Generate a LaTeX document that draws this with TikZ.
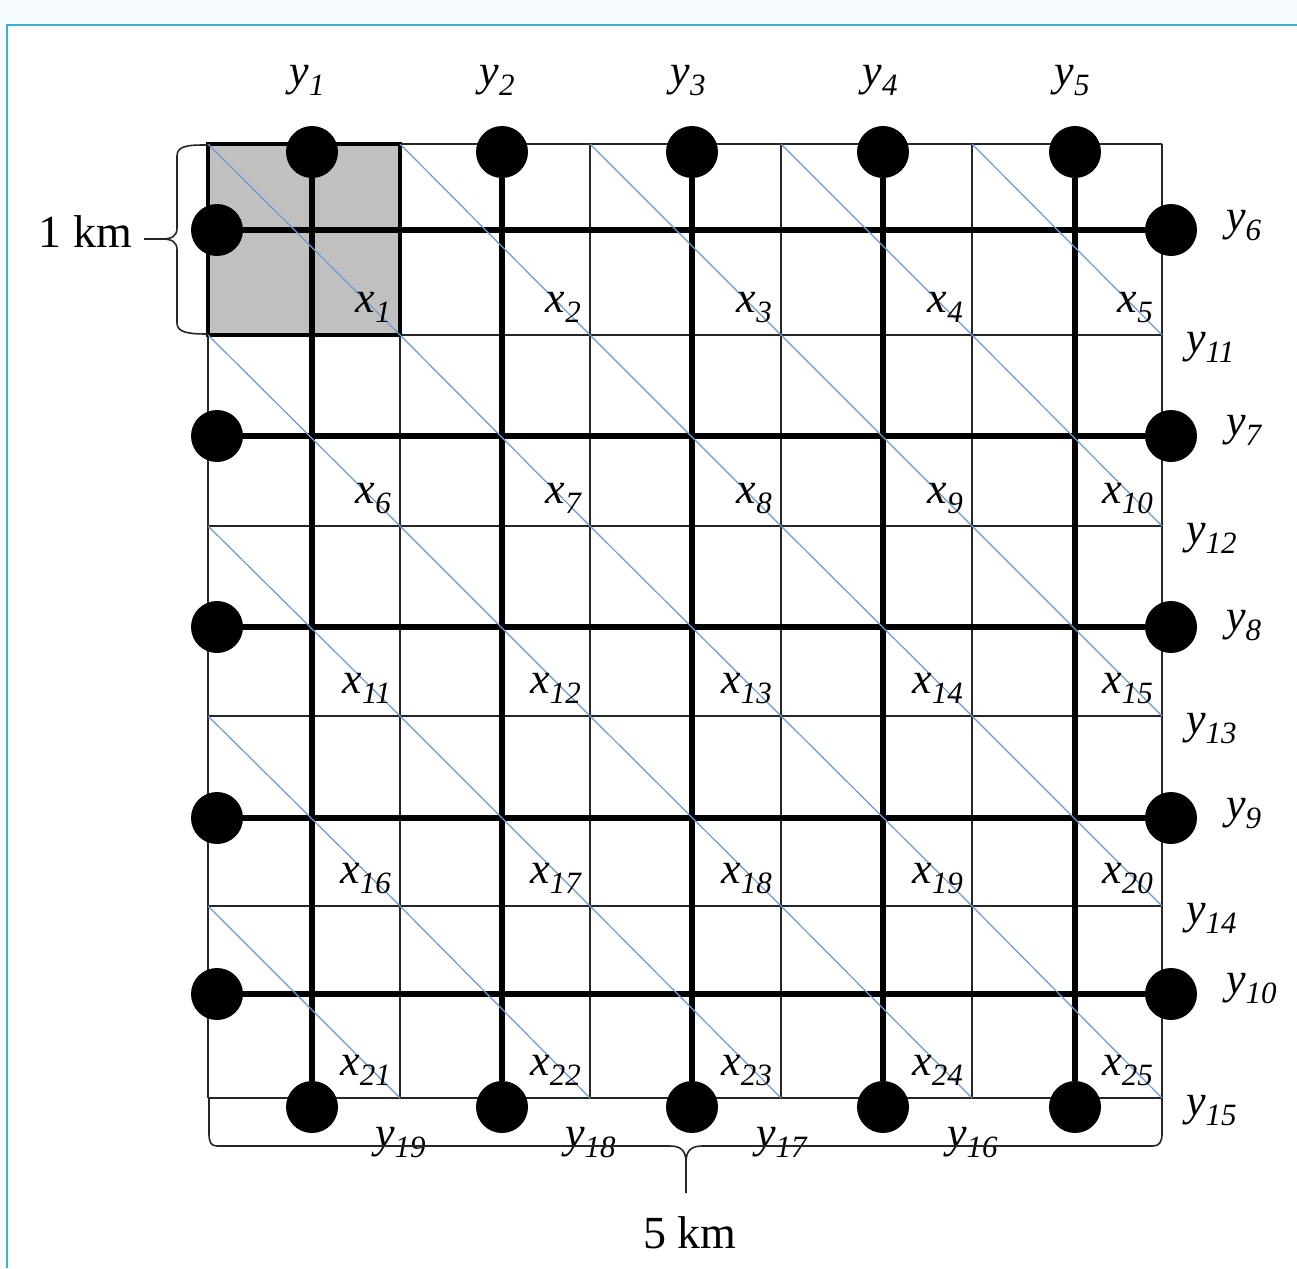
\documentclass[tikz,border=0pt]{standalone}
\usepackage{fontspec}
\setmainfont{Liberation Serif}
\definecolor{pagebg}{HTML}{F5FBFD}
\definecolor{framecol}{HTML}{3DAECB}
\definecolor{cellgray}{HTML}{C0C0C0}
\definecolor{diagcol}{HTML}{6B9BD2}
\newcommand{\vlab}[2]{{\fontsize{44}{44}\selectfont\itshape #1\raisebox{-10pt}{\fontsize{31}{31}\selectfont #2}}}
\begin{document}
\begin{tikzpicture}[x=1pt,y=-1pt,
  gridline/.style={line width=1.8pt, draw=black!85},
  mainline/.style={line width=6.5pt, draw=black},
  diagline/.style={line width=1.2pt, draw=diagcol},
  dotnode/.style={circle, fill=black, draw=none, minimum size=52pt, inner sep=0pt},
  lbl/.style={inner sep=0pt},
  bracestyle/.style={line width=1.6pt, draw=black!85},
  kmtext/.style={inner sep=0pt, font=\fontsize{46}{46}\selectfont}
]
\useasboundingbox (0,0) rectangle (1297,1268);
% page background and frame
\fill[pagebg] (0,0) rectangle (1297,1268);
\fill[white] (7,25) rectangle (1297,1268);
\draw[framecol, line width=2pt] (7,1268) -- (7,25) -- (1297,25);

% shaded block
\fill[cellgray] (208,144) rectangle (400,335);

% thin grid
\foreach \X in {208,400,590,781,972,1162}
  \draw[gridline] (\X,144) -- (\X,1098);
\foreach \Y in {144,335,526,716,906,1098}
  \draw[gridline] (208,\Y) -- (1162,\Y);

% shaded block border
\draw[line width=4.5pt] (208,144) rectangle (400,335);

% dots and thick lines
\foreach \X [count=\i] in {312,502,692,883,1075} {
  \node[dotnode] (t\i) at (\X,152) {};
  \node[dotnode] (b\i) at (\X,1107) {};
  \draw[mainline] (t\i) -- (b\i);
}
\foreach \Y [count=\i] in {230,436,627,818,994} {
  \node[dotnode] (l\i) at (217,\Y) {};
  \node[dotnode] (r\i) at (1171,\Y) {};
  \draw[mainline] (l\i) -- (r\i);
}

% diagonals
\foreach \xa/\xb in {208/400,400/590,590/781,781/972,972/1162}
  \foreach \ya/\yb in {144/335,335/526,526/716,716/906,906/1098}
    \draw[diagline] (\xa,\ya) -- (\xb,\yb);

% x labels
\foreach \yb [count=\r] in {335,526,716,906,1098}
  \foreach \xb [count=\c] in {400,590,781,972,1162} {
    \pgfmathtruncatemacro{\k}{(\r-1)*5+\c}
    \node[lbl, anchor=base east] (x\k) at (\xb-9,\yb-23) {\vlab{x}{\k}};
  }

% top y labels
\foreach \X [count=\i] in {307,497,688,880,1072}
  \node[lbl, anchor=base] (ty\i) at (\X,86) {\vlab{y}{\i}};
% right y labels y6..y10
\foreach \Y [count=\i] in {230,435,630,818,993} {
  \pgfmathtruncatemacro{\k}{\i+5}
  \node[lbl, anchor=base west] (ry\k) at (1226,\Y) {\vlab{y}{\k}};
}
% right y labels y11..y15
\foreach \Y [count=\i] in {335,526,716,906,1098} {
  \pgfmathtruncatemacro{\k}{\i+10}
  \node[lbl, anchor=base west] (sy\k) at (1186,\Y+17) {\vlab{y}{\k}};
}
% bottom y labels y19..y16
\foreach \X/\k in {400/19,590/18,781/17,972/16}
  \node[lbl, anchor=base west] (by\k) at (\X-25,1147) {\vlab{y}{\k}};

% left brace (1 km)
\coordinate (lbtip) at (144,239);
\draw[bracestyle] (208,145) .. controls (190,145) and (177,145) .. (177,156)
  -- (177,228) .. controls (177,236) and (172,239) .. (162,239) -- (lbtip);
\draw[bracestyle] (162,239) .. controls (172,239) and (177,242) .. (177,250)
  -- (177,323) .. controls (177,333) and (190,334) .. (208,334);
\node[kmtext, anchor=base east] (km1) at (132,247) {1 km};

% bottom brace (5 km)
\coordinate (bbtip) at (686,1193);
\draw[bracestyle] (209,1098) -- (209,1134) .. controls (209,1142) and (211,1146) .. (217,1146)
  -- (670,1146) .. controls (680,1146) and (686,1150) .. (686,1162) -- (bbtip);
\draw[bracestyle] (686,1162) .. controls (686,1150) and (692,1146) .. (702,1146)
  -- (1153,1146) .. controls (1159,1146) and (1162,1142) .. (1162,1134) -- (1162,1098);
\node[kmtext, anchor=base] (km5) at (690,1248) {5 km};
\end{tikzpicture}
\end{document}
